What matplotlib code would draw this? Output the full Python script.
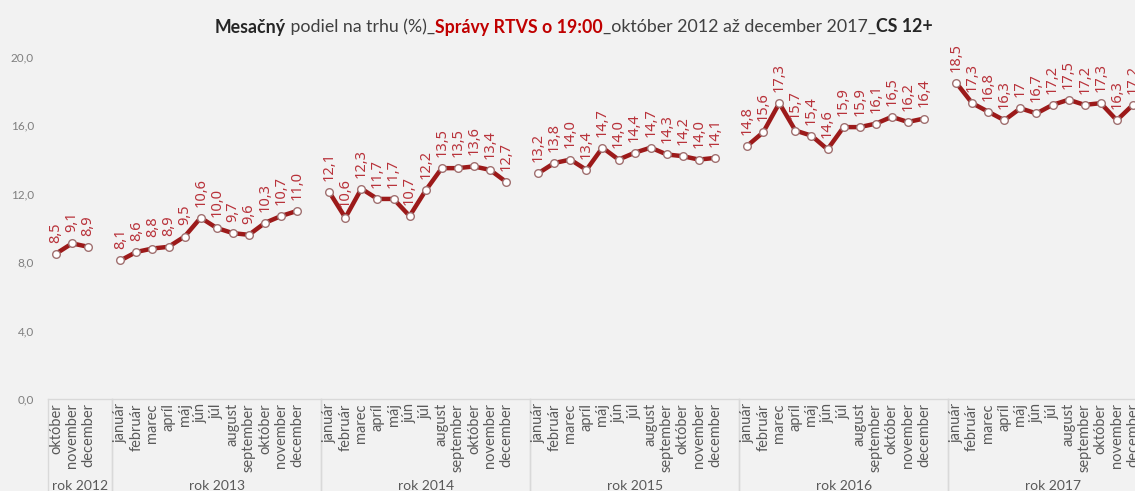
import matplotlib
matplotlib.use("Agg")
import matplotlib.pyplot as plt
from matplotlib.lines import Line2D

# ---------------- data ----------------
years = ["rok 2012", "rok 2013", "rok 2014", "rok 2015", "rok 2016", "rok 2017"]
months_all = ["január", "február", "marec", "apríl", "máj", "jún", "júl",
              "august", "september", "október", "november", "december"]
months_2012 = ["október", "november", "december"]

v2012 = [8.5, 9.1, 8.9]
v2013 = [8.1, 8.6, 8.8, 8.9, 9.5, 10.6, 10.0, 9.7, 9.6, 10.3, 10.7, 11.0]
v2014 = [12.1, 10.6, 12.3, 11.7, 11.7, 10.7, 12.2, 13.5, 13.5, 13.6, 13.4, 12.7]
v2015 = [13.2, 13.8, 14.0, 13.4, 14.7, 14.0, 14.4, 14.7, 14.3, 14.2, 14.0, 14.1]
v2016 = [14.8, 15.6, 17.3, 15.7, 15.4, 14.6, 15.9, 15.9, 16.1, 16.5, 16.2, 16.4]
v2017 = [18.5, 17.3, 16.8, 16.3, 17, 16.7, 17.2, 17.5, 17.2, 17.3, 16.3, 17.2]

series = [v2012, v2013, v2014, v2015, v2016, v2017]
month_lists = [months_2012] + [months_all] * 5

yticks = [0, 4, 8, 12, 16, 20]

# ---------------- style ----------------
BG = "#f2f2f2"
LINE = "#9c1a1a"
LABEL = "#b8323a"
GRAY = "#595959"
SEP = "#d9d9d9"

W, H = 1135, 491
fig = plt.figure(figsize=(W / 100, H / 100), dpi=100, facecolor=BG)

left_px, right_px = 48, 1157
top_px, bottom_px = 57, 399
ax = fig.add_axes([left_px / W, 1 - bottom_px / H,
                   (right_px - left_px) / W, (bottom_px - top_px) / H])
ax.set_facecolor(BG)
for s in ax.spines.values():
    s.set_visible(False)

# category positions: each year group = its months + one blank slot
xs_groups = []
bounds = []
pos = 0
for mlist in month_lists:
    start = pos
    xs_groups.append(list(range(pos, pos + len(mlist))))
    pos += len(mlist) + 1
    bounds.append((start - 0.5, pos - 0.5))
ncat = pos

ax.set_xlim(-0.5, ncat - 0.5)
ax.set_ylim(0, 20)

def fmt(v):
    if isinstance(v, int):
        return str(v)
    return f"{v:.1f}".replace(".", ",")

for xs, vals in zip(xs_groups, series):
    ax.plot(xs, vals, color=LINE, lw=3.2, zorder=3, solid_capstyle="round")
    ax.plot(xs, vals, ls="none", marker="o", ms=5.5, mfc="white",
            mec="#a07070", mew=1.0, zorder=4)
    for x, v in zip(xs, vals):
        ax.annotate(fmt(v), (x, v), xytext=(0, 8), textcoords="offset points",
                    rotation=90, ha="center", va="bottom", color=LABEL,
                    fontsize=10.5, family="Noto Sans", annotation_clip=False,
                    zorder=5)

# y axis
ax.set_yticks(yticks)
ax.set_yticklabels([f"{t:.1f}".replace(".", ",") for t in yticks],
                   fontsize=8.5, color="#7f7f7f", family="Lato")
ax.tick_params(axis="y", length=0, pad=10)

# x axis: month labels
ax.set_xticks([])
ax.axhline(0, color=SEP, lw=1, zorder=1, clip_on=False)
for xs, mlist in zip(xs_groups, month_lists):
    for x, m in zip(xs, mlist):
        ax.annotate(m, (x, 0), xytext=(0, -3), textcoords="offset points",
                    rotation=90, ha="center", va="top", color=GRAY,
                    fontsize=10.5, family="Lato", annotation_clip=False)

# group separators and year labels
trans = ax.get_xaxis_transform()
for (a, b), yl in zip(bounds, years):
    for xb in (a, b):
        ax.add_line(Line2D([xb, xb], [0, -0.3], transform=trans, color=SEP,
                           lw=1, clip_on=False))
    ax.annotate(yl, ((a + b) / 2, 0), xycoords=("data", "data"),
                xytext=(0, -58), textcoords="offset points", ha="center",
                va="top", color=GRAY, fontsize=10, family="Lato",
                annotation_clip=False)

# ---------------- title (multi-colour) ----------------
pieces = [
    ("Mesačný", "bold", "#262626"),
    (" podiel na trhu (%)_", "normal", "#404040"),
    ("Správy RTVS o 19:00", "bold", "#c00000"),
    ("_október 2012 až december 2017_", "normal", "#404040"),
    ("CS 12+", "bold", "#262626"),
]
fig.canvas.draw()
renderer = fig.canvas.get_renderer()
texts = []
for s, w, c in pieces:
    t = fig.text(0, 1 - 27 / H, s, fontsize=12.8, fontweight=w, color=c,
                 family="Lato", va="center", ha="left")
    texts.append(t)
widths = [t.get_window_extent(renderer).width for t in texts]
total = sum(widths)
cx = 574
cur = cx - total / 2
for t, w in zip(texts, widths):
    t.set_x(cur / W)
    cur += w

fig.savefig("out.png", dpi=100, facecolor=BG)
